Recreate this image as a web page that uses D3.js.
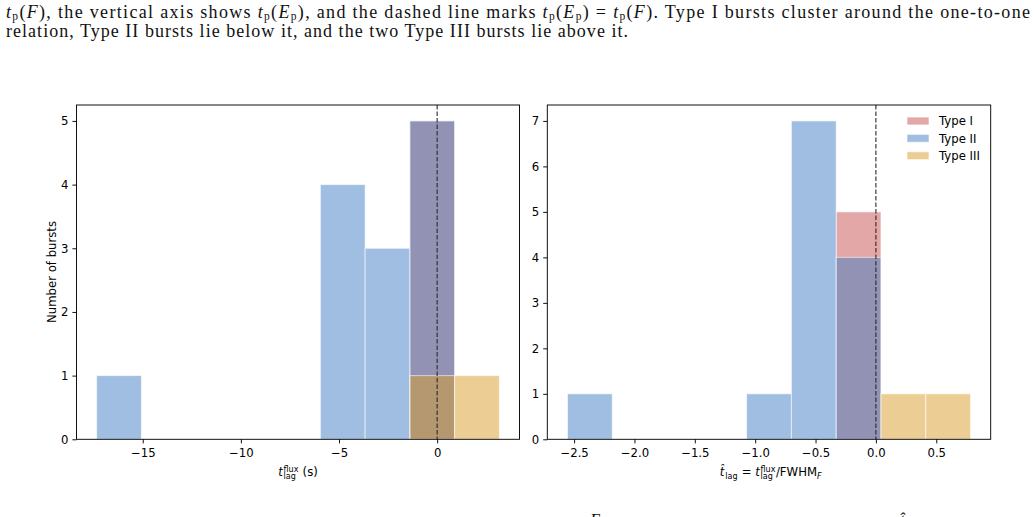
<!DOCTYPE html>
<html>
<head>
<meta charset="utf-8">
<script src="https://cdn.jsdelivr.net/npm/d3@7"></script>
<style>
  body { margin: 0; background: #fff; }
  svg { display: block; }
</style>
</head>
<body>
<script>
// bin edges
var fluxBins = [-17.35, -15.07, -12.79, -10.51, -8.23, -5.95, -3.67, -1.39, 0.89, 3.17];
var normBins = [-2.555, -2.184, -1.813, -1.442, -1.071, -0.700, -0.329, 0.042, 0.413, 0.784];

// counts per bin, per burst type
var fluxTypeI   = [0, 0, 0, 0, 0, 0, 0, 5, 0];
var fluxTypeII  = [1, 0, 0, 0, 0, 4, 3, 5, 0];
var fluxTypeIII = [0, 0, 0, 0, 0, 0, 0, 1, 1];

var normTypeI   = [0, 0, 0, 0, 0, 0, 5, 0, 0];
var normTypeII  = [1, 0, 0, 0, 1, 7, 4, 0, 0];
var normTypeIII = [0, 0, 0, 0, 0, 0, 0, 1, 1];

var typeNames = ['Type I', 'Type II', 'Type III'];
var typeColors = ['rgb(201,79,79)', 'rgb(63,125,195)', 'rgb(217,157,43)'];

var fluxTicks = [-15, -10, -5, 0];
var normTicks = [-2.5, -2.0, -1.5, -1.0, -0.5, 0.0, 0.5];

var screen = { width: 1035, height: 517 };
var sans = "'DejaVu Sans', sans-serif";
var fs = 11.7;
var ss = 8.0;   // script size for sub/superscripts
var ink = '#000';
var tick = 4.1;

var svg = d3.select('body').append('svg')
            .attr('width', screen.width)
            .attr('height', screen.height);

// ---- caption text above the figure ----
var serif = "'Liberation Serif', 'DejaVu Serif', serif";
var captionLines = [
  { y: 18, x: 6, len: 1024, segs: [
    ['i', 't'], ['s', 'p'], ['n', '('], ['i', 'F'], ['n', '), the vertical axis shows '],
    ['i', 't'], ['s', 'p'], ['n', '('], ['i', 'E'], ['s', 'p'], ['n', '), and the dashed line marks '],
    ['i', 't'], ['s', 'p'], ['n', '('], ['i', 'E'], ['s', 'p'], ['n', ') = '],
    ['i', 't'], ['s', 'p'], ['n', '('], ['i', 'F'], ['n', '). Type I bursts cluster around the one-to-one']
  ]},
  { y: 37, x: 6, len: 622, segs: [
    ['n', 'relation, Type II bursts lie below it, and the two Type III bursts lie above it.']
  ]}
];

captionLines.forEach(function(line){
  var t = svg.append('text')
             .attr('x', line.x)
             .attr('y', line.y)
             .attr('font-family', serif)
             .attr('font-size', 18)
             .attr('fill', '#111')
             .attr('textLength', line.len)
             .attr('lengthAdjust', 'spacing');
  var shift = 0;
  line.segs.forEach(function(s){
    var ts = t.append('tspan').text(s[1]);
    var want = s[0] == 's' ? 2 : 0;
    if (want != shift){
      ts.attr('dy', want - shift);
      shift = want;
    }
    if (s[0] == 'i') ts.attr('font-style', 'italic');
    if (s[0] == 's') ts.attr('font-size', 11.5);
  });
});

// tops of the next caption line, cut off by the page edge
svg.append('text').attr('x', 590).attr('y', 525).attr('font-family', serif)
   .attr('font-size', 17).attr('font-style', 'italic').attr('fill', '#111').text('E');
svg.append('text').attr('x', 900).attr('y', 525).attr('font-family', serif)
   .attr('font-size', 17).attr('font-style', 'italic').attr('fill', '#111').text('t\u0302');

// ---- little mathtext helper: lays out pieces centred on cx ----
var mathLabel = function(parent, pieces, cx, base){
  var g = parent.append('g');
  var cursor = 0;
  pieces.forEach(function(p){
    if (p.sub !== undefined || p.sup !== undefined){
      var w = 0;
      if (p.sup){
        var a = g.append('text').attr('x', cursor).attr('y', base - 4)
                 .attr('font-family', sans).attr('font-size', ss).text(p.sup);
        w = Math.max(w, a.node().getComputedTextLength());
      }
      if (p.sub){
        var b = g.append('text').attr('x', cursor).attr('y', base + 3.2)
                 .attr('font-family', sans).attr('font-size', ss)
                 .attr('font-style', p.subIt ? 'italic' : 'normal').text(p.sub);
        w = Math.max(w, b.node().getComputedTextLength());
      }
      cursor += w + 0.5;
    } else {
      var c = g.append('text').attr('x', cursor).attr('y', base)
               .attr('font-family', sans).attr('font-size', fs)
               .attr('font-style', p.it ? 'italic' : 'normal')
               .attr('xml:space', 'preserve')
               .text(p.t);
      cursor += c.node().getComputedTextLength() + (p.it ? 0.8 : 0);
    }
  });
  g.attr('fill', ink).attr('transform', 'translate(' + (cx - cursor / 2) + ',0)');
  return g;
};

// ---- one histogram panel ----
var drawPanel = function(opts){
  var left = opts.left, right = opts.right, top = 105, bottom = 439.3;
  var n = opts.bins.length - 1;
  var span = opts.bins[n] - opts.bins[0];
  var xScale = d3.scaleLinear()
                 .domain([opts.bins[0] - span * 0.05, opts.bins[n] + span * 0.05])
                 .range([left, right]);
  var yScale = d3.scaleLinear()
                 .domain([0, opts.ymax * 1.05])
                 .range([bottom, top]);

  var panel = svg.append('g');

  opts.series.forEach(function(counts, k){
    panel.append('g')
         .selectAll('rect')
         .data(counts.map(function(c, i){ return { c: c, i: i }; })
                     .filter(function(d){ return d.c > 0; }))
         .enter()
         .append('rect')
         .attr('x', function(d){ return xScale(opts.bins[d.i]); })
         .attr('y', function(d){ return yScale(d.c); })
         .attr('width', function(d){ return xScale(opts.bins[d.i + 1]) - xScale(opts.bins[d.i]); })
         .attr('height', function(d){ return yScale(0) - yScale(d.c); })
         .attr('fill', typeColors[k])
         .attr('fill-opacity', 0.5)
         .attr('stroke', '#fff')
         .attr('stroke-opacity', 0.6)
         .attr('stroke-width', 1);
  });

  // dashed reference line at zero
  panel.append('line')
       .attr('x1', xScale(0)).attr('x2', xScale(0))
       .attr('y1', top).attr('y2', bottom)
       .attr('stroke', '#2a2a2a')
       .attr('stroke-width', 1.1)
       .attr('stroke-dasharray', '4.5,2');

  // frame
  panel.append('rect')
       .attr('x', left).attr('y', top)
       .attr('width', right - left).attr('height', bottom - top)
       .attr('fill', 'none')
       .attr('stroke', '#000')
       .attr('stroke-width', 0.93);

  var xAxis = d3.axisBottom(xScale)
                .tickValues(opts.xticks)
                .tickSize(tick)
                .tickPadding(4.8)
                .tickFormat(opts.xfmt);
  var gx = panel.append('g')
                .attr('transform', 'translate(0,' + bottom + ')')
                .call(xAxis);
  var yAxis = d3.axisLeft(yScale)
                .tickValues(d3.range(0, opts.ymax + 1))
                .tickSize(tick)
                .tickPadding(4.1)
                .tickFormat(d3.format('d'));
  var gy = panel.append('g')
                .attr('transform', 'translate(' + left + ',0)')
                .call(yAxis);
  [gx, gy].forEach(function(g){
    g.select('.domain').remove();
    g.selectAll('line').attr('stroke', '#000').attr('stroke-width', 0.93);
    g.selectAll('text').attr('font-family', sans).attr('font-size', fs).attr('fill', ink);
  });

  return { x: xScale, y: yScale, panel: panel };
};

var p1 = drawPanel({
  left: 76.5, right: 519.5,
  bins: fluxBins,
  series: [fluxTypeI, fluxTypeII, fluxTypeIII],
  ymax: 5,
  xticks: fluxTicks,
  xfmt: d3.format('d')
});

var p2 = drawPanel({
  left: 547.3, right: 990.7,
  bins: normBins,
  series: [normTypeI, normTypeII, normTypeIII],
  ymax: 7,
  xticks: normTicks,
  xfmt: d3.format('.1f')
});

// axis labels
svg.append('text')
   .attr('transform', 'translate(55.5,272) rotate(-90)')
   .attr('text-anchor', 'middle')
   .attr('font-family', sans)
   .attr('font-size', fs)
   .attr('fill', ink)
   .text('Number of bursts');

mathLabel(svg, [
  { t: 't', it: true },
  { sup: 'flux', sub: 'lag' },
  { t: ' (s)' }
], 298, 475.5);

mathLabel(svg, [
  { t: 't\u0302', it: true },
  { sub: 'lag' },
  { t: ' = ' },
  { t: 't', it: true },
  { sup: 'flux', sub: 'lag' },
  { t: '/FWHM' },
  { sub: 'F', subIt: true }
], 771, 475.5);

// legend (no frame)
var legend = svg.append('g').classed('legend', true);
var legendRows = [121, 138.3, 155.7];
typeNames.forEach(function(name, k){
  legend.append('rect')
        .attr('x', 907).attr('y', legendRows[k] - 3.9)
        .attr('width', 22).attr('height', 7.8)
        .attr('fill', typeColors[k])
        .attr('fill-opacity', 0.5)
        .attr('stroke', '#fff')
        .attr('stroke-opacity', 0.6);
  legend.append('text')
        .attr('x', 939).attr('y', legendRows[k])
        .attr('dy', '0.36em')
        .attr('font-family', sans)
        .attr('font-size', fs)
        .attr('fill', ink)
        .text(name);
});
</script>
</body>
</html>
